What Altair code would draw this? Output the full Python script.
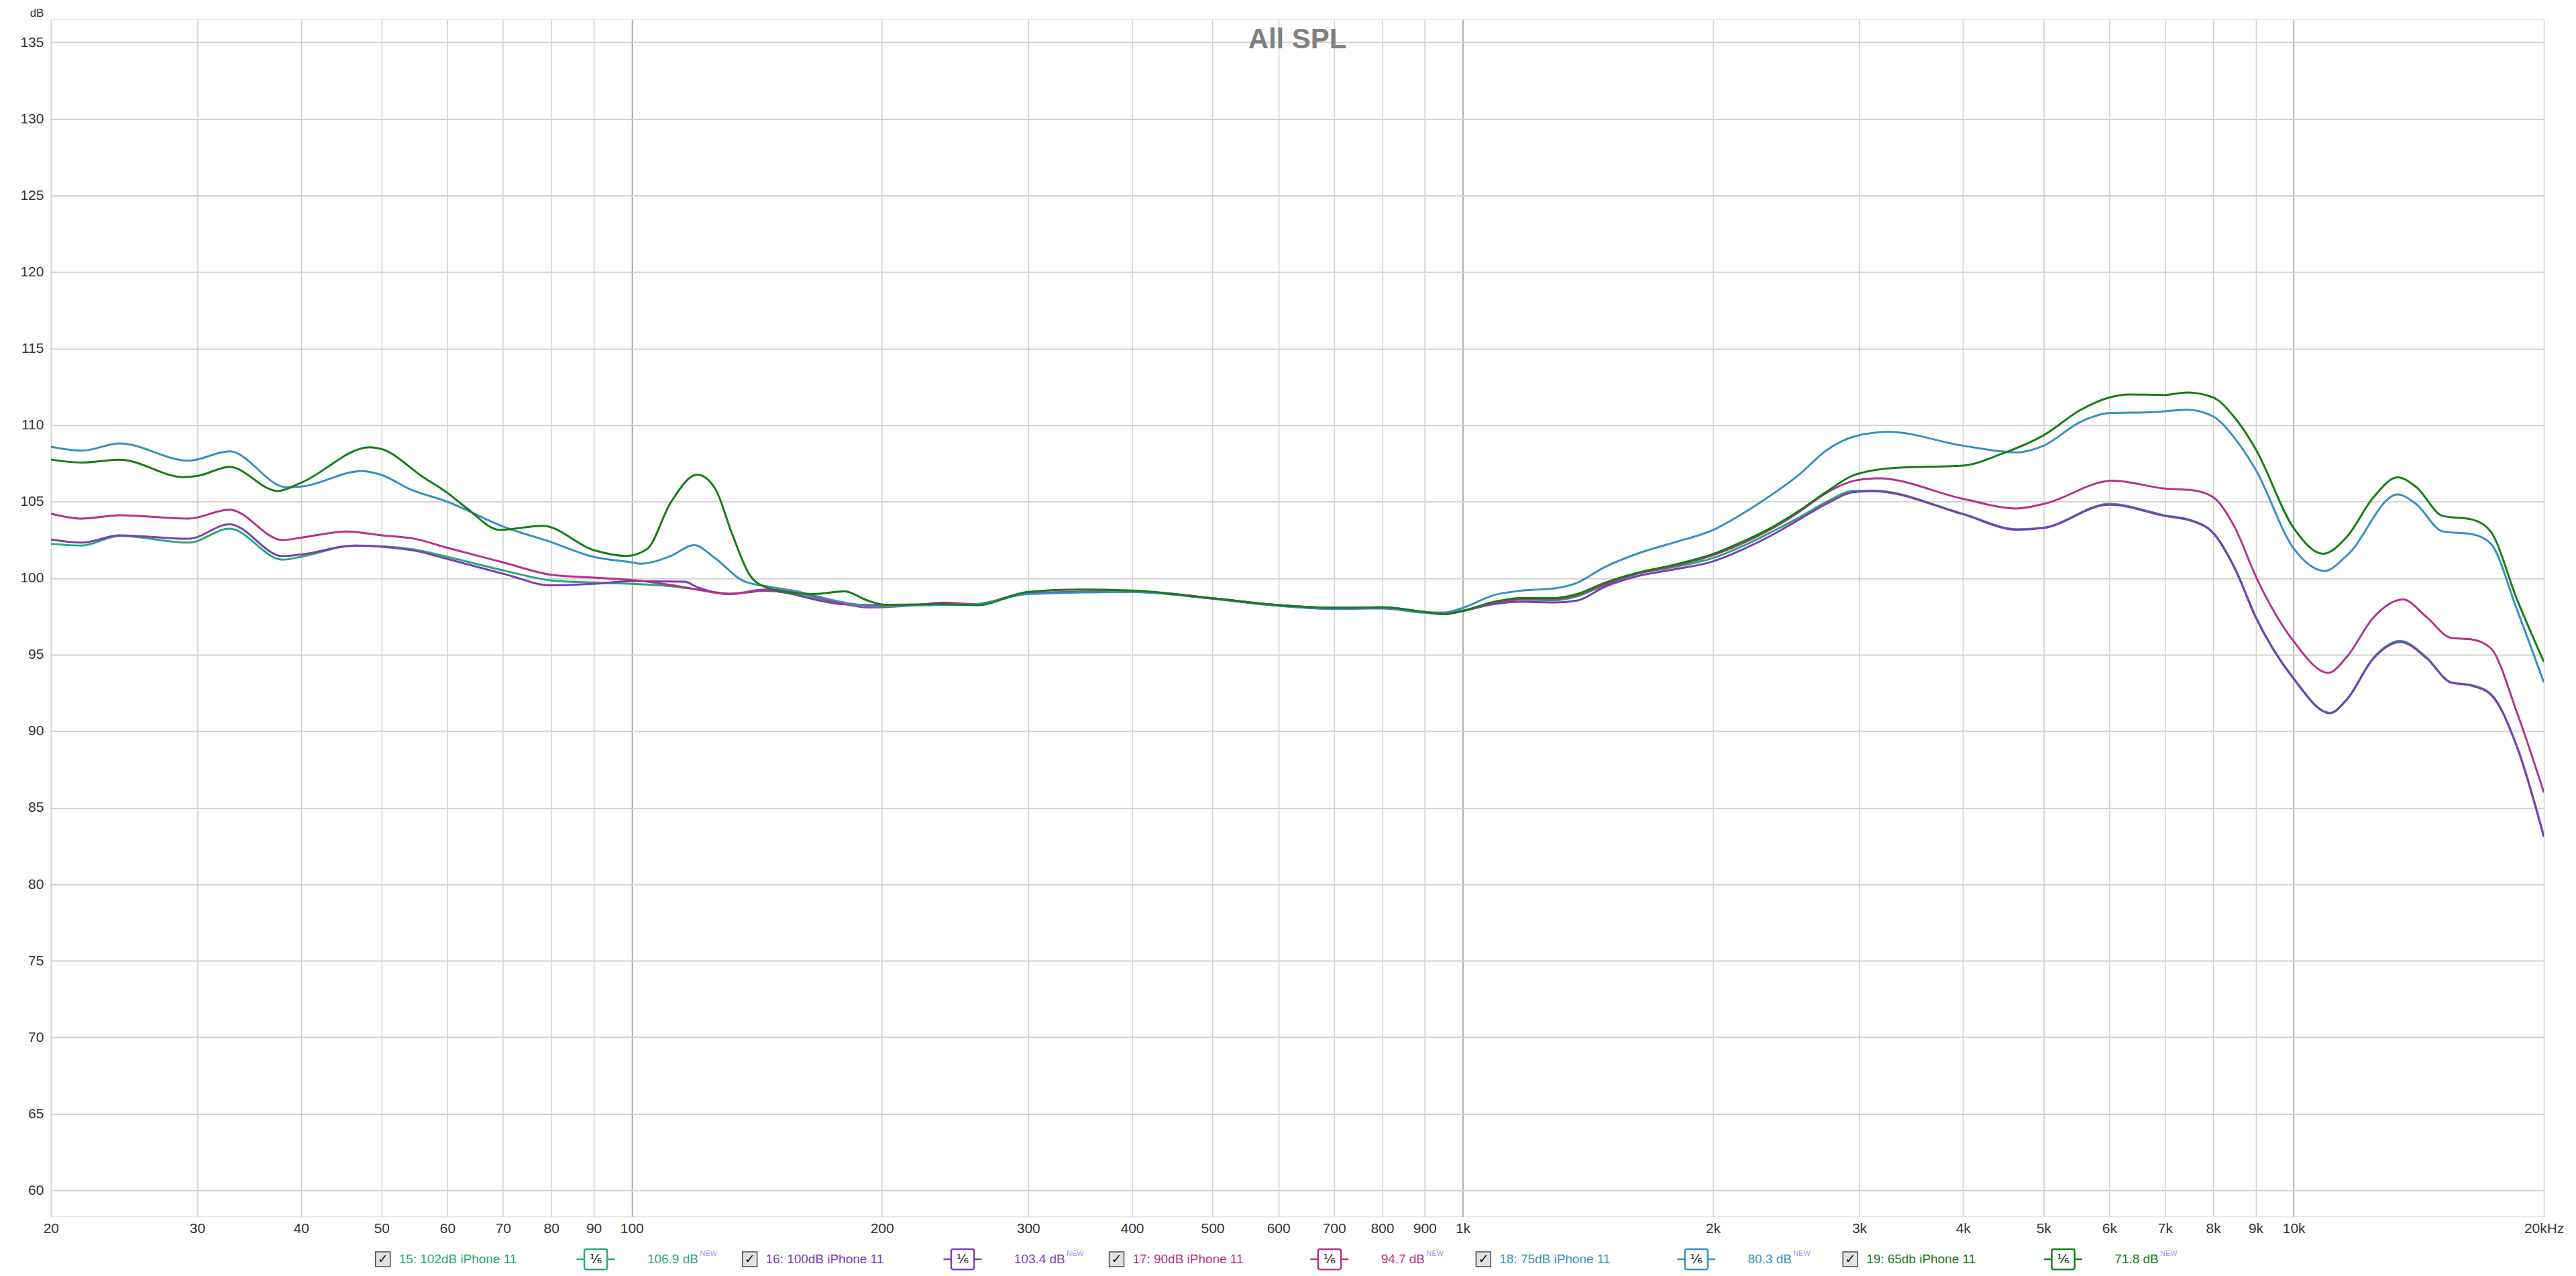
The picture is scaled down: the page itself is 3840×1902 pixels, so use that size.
import altair as alt
import pandas as pd

# ---------------- data ----------------
series_names = [
    "15: 102dB iPhone 11",
    "16: 100dB iPhone 11",
    "17: 90dB iPhone 11",
    "18: 75dB iPhone 11",
    "19: 65db iPhone 11",
]
series_values = ["106.9 dB", "103.4 dB", "94.7 dB", "80.3 dB", "71.8 dB"]
series_colors = ["#2aa876", "#7b3fb5", "#b5338a", "#3a8fc0", "#187c18"]

f15 = [20, 21.8, 24.2, 29.3, 32.8, 38.0, 40, 46.4, 50, 54.8, 60, 70, 80, 90, 100, 111.5, 120, 130.8, 145, 178.6, 195,
       260, 300, 400, 500, 600, 700, 800, 900, 950, 1000, 1090, 1175, 1290, 1372, 1482, 1623, 1796, 2000, 2176, 2349,
       2536, 2738, 2957, 3114, 4000, 4644, 5000, 6000, 7000, 7555, 8000, 8502, 9000, 10000, 11054, 11590, 12477,
       13433, 14460, 15453, 16393, 17258, 18578, 20000]
v15 = [102.24, 102.13, 102.76, 102.32, 103.23, 101.2, 101.39, 102.13, 102.08, 101.86, 101.39, 100.51, 99.85, 99.71,
       99.63, 99.47, 99.25, 98.99, 99.18, 98.37, 98.23, 98.26, 99.03, 99.12, 98.68, 98.24, 98.06, 98.09, 97.79, 97.68,
       97.86, 98.37, 98.59, 98.55, 98.8, 99.55, 100.28, 100.72, 101.31, 102.11, 102.99, 103.94, 104.97, 105.7, 105.72,
       104.2, 103.2, 103.3, 104.85, 104.1, 103.75, 102.98, 100.62, 97.48, 93.45, 91.2, 92.1, 94.8, 95.9, 94.8, 93.2,
       93.0, 92.45, 88.95, 83.15]

f16 = [20, 21.8, 24.2, 29.3, 32.8, 38.0, 40, 46.4, 50, 54.8, 60, 70, 80, 90, 100, 115.7, 120, 130.8, 145, 178.6, 195,
       260, 300, 400, 500, 600, 700, 800, 900, 950, 1000, 1090, 1175, 1290, 1372, 1482, 1623, 1796, 2000, 2176, 2349,
       2536, 2738, 2957, 3114, 4000, 4644, 5000, 6000, 7000, 7555, 8000, 8502, 9000, 10000, 11054, 11590, 12477,
       13433, 14460, 15453, 16393, 17258, 18578, 20000]
v16 = [102.52, 102.32, 102.79, 102.57, 103.52, 101.44, 101.54, 102.13, 102.05, 101.79, 101.25, 100.29, 99.53, 99.63,
       99.8, 99.77, 99.4, 98.96, 99.18, 98.3, 98.23, 98.3, 99.03, 99.1, 98.65, 98.2, 98.0, 98.02, 97.75, 97.65, 97.85,
       98.3, 98.45, 98.41, 98.53, 99.43, 100.13, 100.57, 101.09, 101.89, 102.77, 103.8, 104.85, 105.62, 105.68, 104.17,
       103.16, 103.27, 104.8, 104.06, 103.72, 102.94, 100.58, 97.44, 93.41, 91.17, 92.07, 94.76, 95.83, 94.76, 93.18,
       92.96, 92.4, 88.92, 83.09]

f17 = [20, 21.8, 24.2, 29.3, 32.8, 38.0, 40, 45.4, 50, 54.8, 60, 70, 80, 90, 100, 111.5, 120, 130.8, 145, 156.5, 178.6,
       192.6, 220, 237, 260, 300, 400, 500, 600, 700, 800, 900, 950, 1000, 1090, 1175, 1290, 1372, 1482, 1623, 1796,
       2000, 2176, 2349, 2536, 2738, 2957, 3163, 4000, 4644, 5000, 6055, 7000, 7555, 8000, 8502, 9000, 10000, 11004,
       11590, 12477, 13532, 14460, 15453, 16393, 17258, 18578, 20000]
v17 = [104.21, 103.89, 104.11, 103.89, 104.47, 102.49, 102.64, 103.05, 102.79, 102.57, 101.98, 101.03, 100.22,
       100.03, 99.88, 99.55, 99.25, 98.96, 99.25, 99.1, 98.37, 98.08, 98.23, 98.4, 98.3, 99.03, 99.15, 98.68, 98.24,
       98.06, 98.09, 97.79, 97.68, 97.86, 98.4, 98.62, 98.62, 98.9, 99.6, 100.3, 100.8, 101.5, 102.3, 103.2, 104.3,
       105.56, 106.36, 106.52, 105.18, 104.55, 104.84, 106.37, 105.85, 105.74, 105.29, 103.27, 100.13, 95.87, 93.81,
       94.87, 97.44, 98.61, 97.44, 96.1, 95.99, 95.43, 91.17, 86.0]

f18 = [20, 21.8, 24.2, 29.3, 32.8, 38.4, 40, 47.3, 50, 54.2, 60, 70, 80, 90, 100, 102.4, 111.5, 118.8, 126, 135.9,
       145, 156.5, 178.6, 195, 220, 260, 300, 400, 500, 600, 700, 800, 900, 950, 1000, 1090, 1175, 1290, 1372, 1482,
       1623, 1796, 2000, 2176, 2349, 2536, 2738, 2957, 3259, 4000, 4644, 5000, 5544, 6000, 6817, 7444, 8000, 8502,
       9000, 10000, 10900, 11590, 13333, 14036, 15113, 16393, 17258, 18578, 20000]
v18 = [108.58, 108.33, 108.8, 107.67, 108.28, 105.94, 105.98, 106.99, 106.74, 105.79, 104.99, 103.37, 102.35,
       101.39, 101.03, 100.94, 101.45, 102.16, 101.3, 99.84, 99.47, 99.18, 98.45, 98.15, 98.23, 98.3, 98.96, 99.1,
       98.68, 98.2, 98.0, 98.05, 97.75, 97.75, 98.05, 98.89, 99.18, 99.33, 99.69, 100.72, 101.6, 102.33, 103.14,
       104.24, 105.41, 106.73, 108.34, 109.25, 109.55, 108.65, 108.21, 108.65, 110.22, 110.78, 110.85, 111.0, 110.56,
       109.1, 107.09, 101.93, 100.47, 101.48, 105.47, 104.84, 103.05, 102.87, 102.26, 97.89, 93.18]

f19 = [20, 21.8, 24.2, 28.9, 30, 32.8, 37.5, 40, 48.4, 50, 56.1, 60, 63.2, 69.4, 78.1, 90, 98.6, 104.3, 111.5, 119.9,
       126, 132, 138.4, 145.1, 156.5, 165.6, 180.3, 192.6, 202, 237, 260, 300, 345, 400, 500, 600, 700, 800, 900, 950,
       1000, 1090, 1175, 1290, 1372, 1482, 1623, 1796, 2000, 2176, 2349, 2536, 2738, 2957, 3306, 4000, 4443, 5000,
       5544, 6000, 6328, 7000, 7444, 8000, 8502, 9000, 10000, 10845, 11590, 12477, 13333, 14036, 15113, 16393, 17258,
       18578, 20000]
v19 = [107.74, 107.55, 107.74, 106.6, 106.67, 107.26, 105.69, 106.23, 108.55, 108.43, 106.6, 105.57, 104.6, 103.15,
       103.42, 101.83, 101.45, 101.89, 104.97, 106.76, 105.85, 102.92, 100.28, 99.4, 99.03, 98.96, 99.13, 98.52, 98.26,
       98.3, 98.23, 99.1, 99.25, 99.19, 98.68, 98.24, 98.06, 98.09, 97.79, 97.65, 97.86, 98.45, 98.7, 98.7, 98.96,
       99.69, 100.35, 100.87, 101.57, 102.4, 103.28, 104.38, 105.63, 106.73, 107.2, 107.35, 108.1, 109.33, 111.0,
       111.8, 112.0, 111.97, 112.13, 111.8, 110.45, 108.43, 103.27, 101.59, 102.71, 105.29, 106.59, 105.96, 104.06,
       103.83, 103.05, 98.57, 94.53]

x_tick_values = [20, 30, 40, 50, 60, 70, 80, 90, 100, 200, 300, 400, 500, 600, 700, 800, 900,
                 1000, 2000, 3000, 4000, 5000, 6000, 7000, 8000, 9000, 10000, 20000]
y_tick_values = list(range(60, 136, 5))
chart_title = "All SPL"

# ---------------- tables ----------------
freqs = [f15, f16, f17, f18, f19]
vals = [v15, v16, v17, v18, v19]
rows = []
for name, fs, vs in zip(series_names, freqs, vals):
    for f, v in zip(fs, vs):
        rows.append({"series": name, "freq": f, "spl": v})
df = pd.DataFrame(rows)

leg_df = pd.DataFrame({"idx": list(range(len(series_names))), "series": series_names, "value": series_values})

# ---------------- layout ----------------
W, H = 3724, 1788
FONT = "Liberation Sans"
TXT = "#333333"
SLOT = 548.0  # px between legend entries
LEG_Y = 1852
LEG_FS = 19

color_scale = alt.Scale(domain=series_names, range=series_colors)
x_scale = alt.Scale(type="log", domain=[20, 20000], nice=False)
y_scale = alt.Scale(domain=[58.3, 136.5], nice=False, zero=False)

x_axis = alt.Axis(
    values=x_tick_values,
    labelExpr="datum.value == 20000 ? '20kHz' : (datum.value >= 1000 ? (datum.value / 1000) + 'k' : datum.value + '')",
    title=None, ticks=False, domain=False, labelOverlap=False, labelFlush=False,
    labelFont=FONT, labelFontSize=21, labelColor=TXT, labelPadding=7,
    grid=True, gridWidth=1.6,
    gridColor={"condition": {"test": "datum.value == 100 || datum.value == 1000 || datum.value == 10000",
                             "value": "#9c9c9c"}, "value": "#d2d2d2"},
)
y_axis = alt.Axis(
    values=y_tick_values, title="dB", titleAngle=0, titleAlign="right", titleBaseline="alphabetic",
    titleX=-11, titleY=-4, titleFont=FONT, titleFontSize=17, titleFontWeight="normal", titleColor=TXT,
    ticks=False, domain=False, labelOverlap=False, labelFlush=False,
    labelFont=FONT, labelFontSize=21, labelColor=TXT, labelPadding=11,
    grid=True, gridColor="#d2d2d2", gridWidth=2,
)

lines = alt.Chart(df).mark_line(interpolate="monotone", strokeWidth=3, clip=True).encode(
    x=alt.X("freq:Q", scale=x_scale, axis=x_axis),
    y=alt.Y("spl:Q", scale=y_scale, axis=y_axis),
    color=alt.Color("series:N", scale=color_scale, legend=None),
    order=alt.Order("freq:Q"),
)

title = alt.Chart(pd.DataFrame({"t": [chart_title]})).mark_text(
    font=FONT, fontSize=42, fontWeight="bold", color="#808080", align="center", baseline="alphabetic"
).encode(text="t:N", x=alt.value(W / 2), y=alt.value(43))

leg_scale = alt.Scale(domain=[-0.905, -0.905 + W / SLOT], nice=False, zero=False)


def leg_x(field):
    return alt.X(field + ":Q", scale=leg_scale, axis=None)


leg = alt.Chart(leg_df).transform_calculate(
    xc="datum.idx",
    xl="datum.idx + 24 / %f" % SLOT,
    xs="datum.idx + 318 / %f" % SLOT,
    xv="datum.idx + 395 / %f" % SLOT,
    xn="datum.idx + (397 + 10.6 * (length(datum.value) - 4) + 34) / %f" % SLOT,
)

checkbox = leg.mark_point(shape="square", size=484, filled=True, fill="#e2e2e2", stroke="#4a4a4a",
                          strokeWidth=1.5, opacity=1).encode(x=leg_x("xc"), y=alt.value(LEG_Y))
check = leg.mark_text(text="✓", font="DejaVu Sans", fontSize=19, fontWeight="bold", color="#111111",
                      baseline="middle", align="center").encode(x=leg_x("xc"), y=alt.value(LEG_Y))
label = leg.mark_text(font=FONT, fontSize=LEG_FS, align="left", baseline="middle").encode(
    x=leg_x("xl"), y=alt.value(LEG_Y), text="series:N",
    color=alt.Color("series:N", scale=color_scale, legend=None))
SYM = ("M-1,0L-0.6,0M0.6,0L1,0M-0.5,-0.53L0.5,-0.53Q0.6,-0.53 0.6,-0.43L0.6,0.43Q0.6,0.53 0.5,0.53"
       "L-0.5,0.53Q-0.6,0.53 -0.6,0.43L-0.6,-0.43Q-0.6,-0.53 -0.5,-0.53Z")
sym = leg.mark_point(shape=SYM, size=57 * 57, filled=False, strokeWidth=2.5, opacity=1).encode(
    x=leg_x("xs"), y=alt.value(LEG_Y), color=alt.Color("series:N", scale=color_scale, legend=None))
frac = leg.mark_text(text="¹⁄₆", font="DejaVu Sans", fontSize=19, color="#111111", align="center",
                     baseline="middle").encode(x=leg_x("xs"), y=alt.value(LEG_Y))
value = leg.mark_text(font=FONT, fontSize=LEG_FS, align="left", baseline="middle").encode(
    x=leg_x("xv"), y=alt.value(LEG_Y), text="value:N",
    color=alt.Color("series:N", scale=color_scale, legend=None))
new = leg.mark_text(text="NEW", font=FONT, fontSize=11, color="#9a9af0", align="left",
                    baseline="middle").encode(x=leg_x("xn"), y=alt.value(LEG_Y - 8))

chart = alt.layer(lines, title, checkbox, check, label, sym, frac, value, new).resolve_scale(
    x="independent"
).properties(
    width=W, height=H,
    autosize=alt.AutoSizeParams(type="none"),
    padding={"left": 68, "top": 19, "right": 40, "bottom": 80},
).configure_view(
    stroke="#a4a4a4", strokeWidth=3.5
).configure(background="white")

chart.save("out.html", embed_options={"renderer": "svg", "actions": False})
